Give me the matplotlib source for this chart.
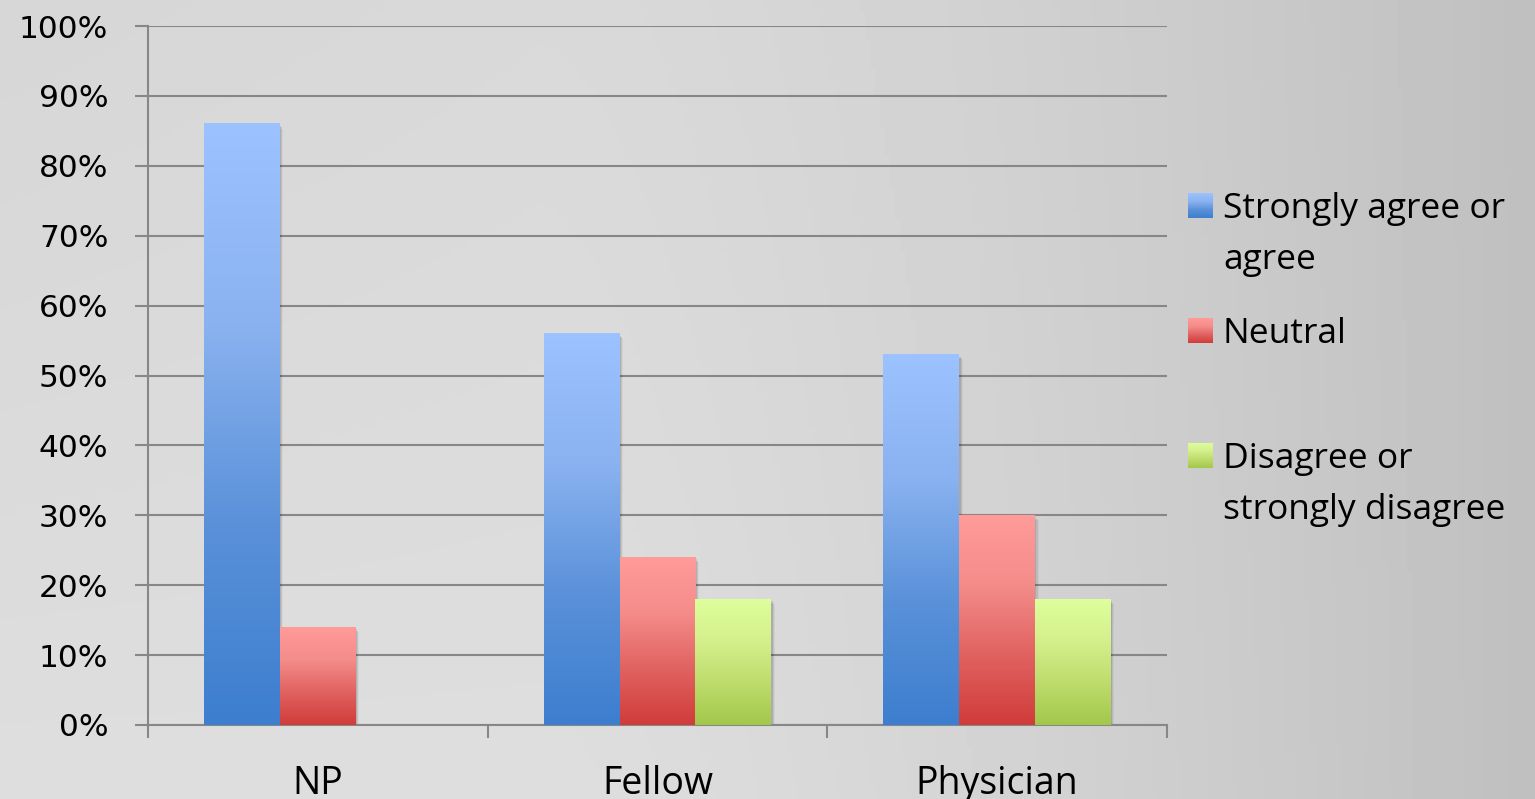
import numpy as np
import matplotlib.pyplot as plt
from matplotlib.colors import LinearSegmentedColormap
from matplotlib.patches import Rectangle

categories = ['NP', 'Fellow', 'Physician']
series = ['Strongly agree or\nagree', 'Neutral', 'Disagree or\nstrongly disagree']
agree = [86, 56, 53]
neutral = [14, 24, 30]
disagree = [0, 18, 18]
values = [agree, neutral, disagree]
yticks = [0, 10, 20, 30, 40, 50, 60, 70, 80, 90, 100]

# bottom colour -> top colour for each series
grads = [
    ['#3d7ecf', '#5a91d9', '#8ab2f0', '#9cc3ff'],
    ['#d03c3a', '#e06260', '#f48c8a', '#ff9b99'],
    ['#a2c84b', '#bedc6c', '#d4f08c', '#ddff9c'],
]
cmaps = [LinearSegmentedColormap.from_list('g%d' % i, c) for i, c in enumerate(grads)]

W, H = 1535, 799
fig = plt.figure(figsize=(W / 100, H / 100), dpi=100)

# background
bg = fig.add_axes([0, 0, 1, 1], zorder=-10)
xx, yy = np.meshgrid(np.linspace(0, 1, 300), np.linspace(0, 1, 200))
shade = 0.87 - 0.03 * (1 - yy) * (1 - xx) - 0.12 * np.clip((xx - 0.35) / 0.65, 0, 1) ** 1.4
bg.imshow(shade, cmap='gray', vmin=0, vmax=1, aspect='auto', extent=[0, 1, 0, 1], origin='upper')
bg.set_axis_off()

ax = fig.add_axes([148 / W, (H - 725) / H, (1167 - 148) / W, (725 - 26) / H])
ax.patch.set_alpha(0)

x = np.arange(len(categories))
bw = 76 / 340
offsets = [-bw, 0, bw]
grad = np.linspace(1, 0, 256).reshape(-1, 1)
for i, vals in enumerate(values):
    bars = ax.bar(x + offsets[i], vals, bw, color='none', zorder=3)
    for b in bars:
        bx, by, bwid, bh = b.get_x(), b.get_y(), b.get_width(), b.get_height()
        if bh <= 0:
            continue
        # soft shadow
        for k, a in enumerate([0.10, 0.07, 0.04]):
            sh = Rectangle((bx + 0.004 + k * 0.003, by - 0.3 - k * 0.2), bwid, bh,
                           facecolor='black', alpha=a, edgecolor='none', zorder=2)
            ax.add_patch(sh)
        ax.imshow(grad, cmap=cmaps[i], aspect='auto', extent=[bx, bx + bwid, by, by + bh],
                  zorder=3, interpolation='bilinear')

ax.set_xlim(-0.5, 2.5)
ax.set_ylim(0, 100)

gc = '#878787'
ax.set_yticks(yticks)
ax.set_yticklabels(['%d%%' % t for t in yticks], fontsize=22.5, family='DejaVu Sans')
ax.yaxis.grid(True, color=gc, linewidth=1.5, zorder=1)
ax.set_axisbelow(True)
ax.tick_params(axis='y', length=9.5, width=1.5, color=gc, pad=19)

ax.set_xticks([-0.5, 0.5, 1.5, 2.5])
ax.set_xticklabels([])
ax.set_xticks(x, minor=True)
ax.set_xticklabels(categories, minor=True, fontsize=27, family='Open Sans')
ax.tick_params(axis='x', which='major', length=9.5, width=1.5, color=gc)
ax.tick_params(axis='x', which='minor', length=0, pad=29)

for s in ['top', 'right']:
    ax.spines[s].set_visible(False)
for s in ['left', 'bottom']:
    ax.spines[s].set_color(gc)
    ax.spines[s].set_linewidth(1.5)

# legend
leg_y = [206, 331, 456]
for i, lab in enumerate(series):
    cy = leg_y[i]
    sw = fig.add_axes([1188 / W, (H - cy - 12) / H, 25 / W, 25 / H])
    sw.imshow(grad, cmap=cmaps[i], aspect='auto', interpolation='bilinear')
    sw.set_axis_off()
    fig.text(1223 / W, (H - cy + 14) / H, lab, fontsize=25.5, family='Open Sans',
             va='top', ha='left', linespacing=1.65)

fig.savefig('out.png', dpi=100)
